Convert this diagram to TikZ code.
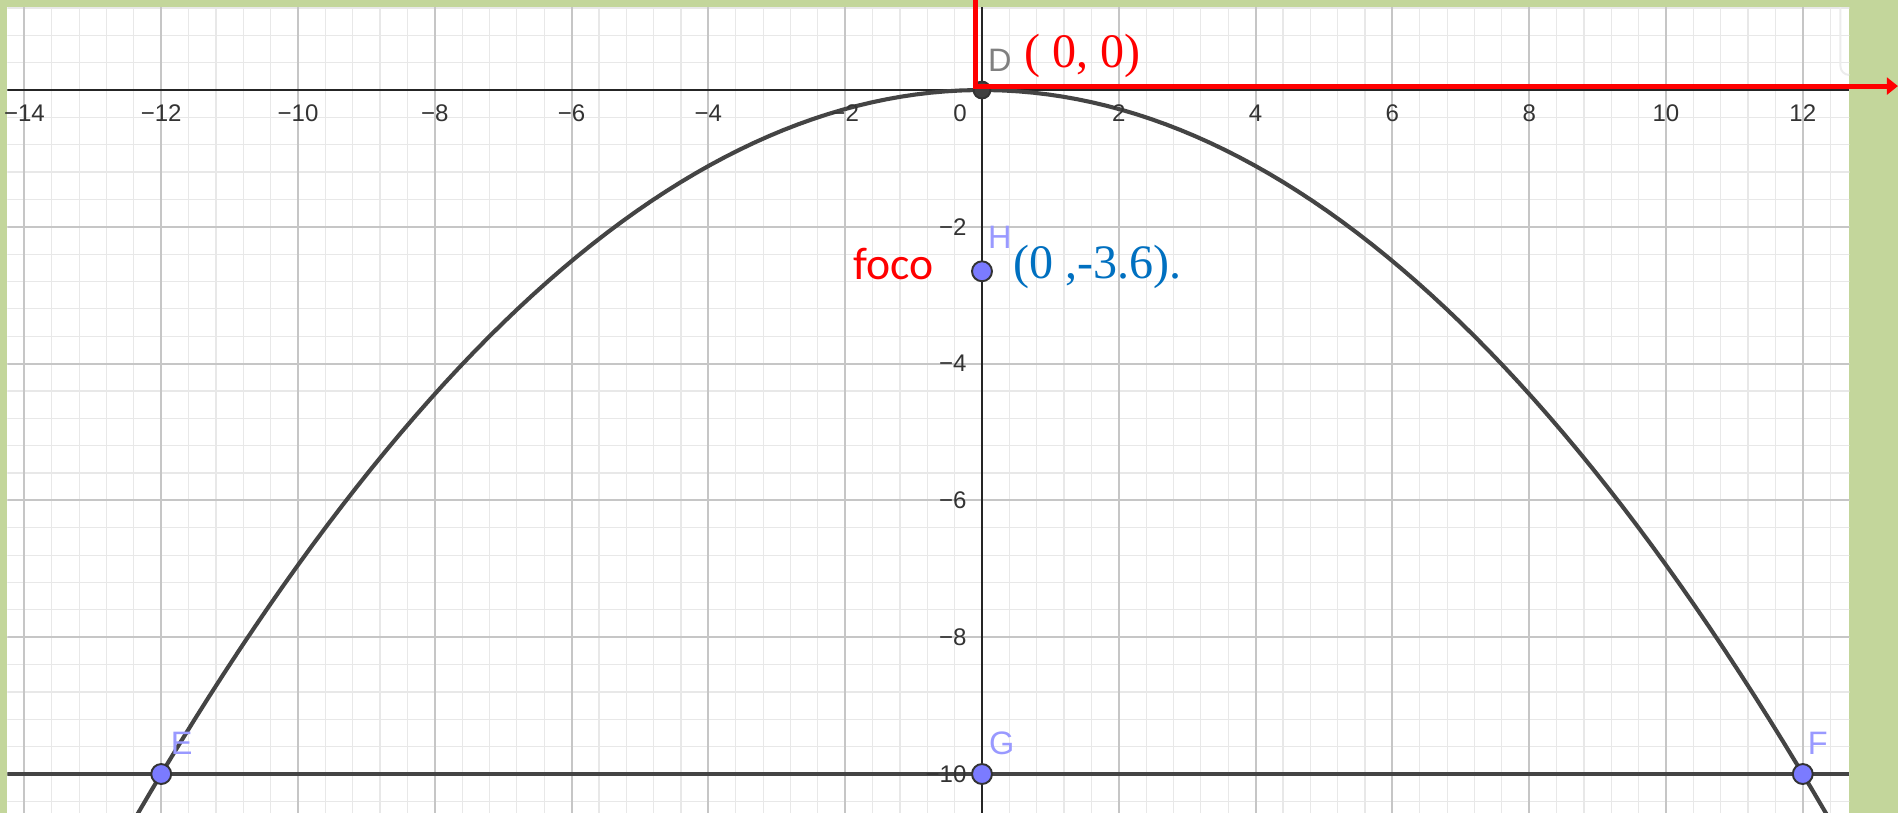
\documentclass[tikz,border=0pt]{standalone}
\usepackage{fontspec}
\setmainfont{Liberation Serif}
\newfontfamily\ggbfont{Liberation Sans}
\newfontfamily\carlito{Carlito}
\usepackage{tikz}
\usetikzlibrary{arrows.meta}
\definecolor{bgreen}{HTML}{C3D69B}
\definecolor{axisgray}{HTML}{252525}
\definecolor{curve}{HTML}{444444}
\definecolor{ptblue}{HTML}{7B7BFF}
\definecolor{lblue}{HTML}{9999FF}
\definecolor{red}{HTML}{FF0000}
\definecolor{txtblue}{HTML}{0070C0}

\begin{document}
\begin{tikzpicture}[pt/.style={circle,fill=ptblue,draw=black!80,line width=0.8pt,inner sep=0pt,minimum size=8.3pt},
lbl/.style={font=\ggbfont\fontsize{13.5}{14}\selectfont,text=lblue,inner sep=0pt},
tick/.style={font=\ggbfont\fontsize{10}{12}\selectfont,text=black!80,inner sep=0pt}]
\useasboundingbox(-14.357,-10.570) rectangle (13.392,1.316);
\fill[bgreen](-14.357,-10.570) rectangle (13.392,1.316);
\fill[white](-14.25,-10.570) rectangle (12.68,1.213);
\begin{scope}
\clip(-14.25,-10.570) rectangle (12.68,1.213);
\draw[gray!18,line width=0.5pt,step=0.4](-14.4,-10.8) grid (12.8,1.3);
\draw[gray!45,line width=0.8pt,step=2](-14.4,-10.8) grid (12.8,1.3);
\draw[gray!15,line width=0.8pt](12.55,1.213)--(12.55,0.35) arc(180:270:0.13);
\draw[axisgray,line width=0.8pt](-14.25,0)--(12.68,0) (0,-10.57)--(0,1.213);
\draw[curve,line width=1.7pt,domain=-12.8:12.8,samples=120] plot(\x,{-\x*\x/14.4});
\draw[curve,line width=1.7pt](-14.25,-10)--(12.68,-10);
\end{scope}
\foreach\v in{14,12,...,2}{
    \node[tick](xm\v) at(-\v,-0.34){−\v};
}
\foreach\v in{2,4,...,12}{
    \node[tick](xp\v) at(\v,-0.34){\v};
}
\node[tick](x0) at(-0.32,-0.34){0};
\foreach\v in{2,4,...,10}{
    \node[tick,anchor=east](ym\v) at(-0.22,-\v){−\v};
}
\node[pt](E) at(-12,-10){};
\node[pt](G) at(0,-10){};
\node[pt](F) at(12,-10){};
\node[pt](H) at(0,-2.65){};
\node[pt,fill=black!75,minimum size=7pt](D) at(0,0){};
\node[lbl](El) at(-11.70,-9.55){E};
\node[lbl](Gl) at(0.29,-9.55){G};
\node[lbl](Fl) at(12.22,-9.55){F};
\node[lbl](Hl) at(0.26,-2.16){H};
\node[lbl,text=gray](Dl) at(0.26,0.44){D};
\coordinate(top) at(-0.095,1.316);
\coordinate(tip) at(13.392,0.058);
\draw[red,line width=2.1pt,-{Triangle[length=4.6pt,width=7pt]}](top) |- (tip);
\node[text=red,font=\fontsize{20}{24}\selectfont,anchor=west,inner sep=0pt](orig) at(0.61,0.50){( 0, 0)};
\node[text=red,font=\carlito\fontsize{19}{23}\selectfont,anchor=west,inner sep=0pt](foco) at(-1.886,-2.54){foco};
\node[text=txtblue,font=\fontsize{20}{24}\selectfont,anchor=west,inner sep=0pt](fcoord) at(0.453,-2.59){(0 ,-3.6).};
\end{tikzpicture}
\end{document}
